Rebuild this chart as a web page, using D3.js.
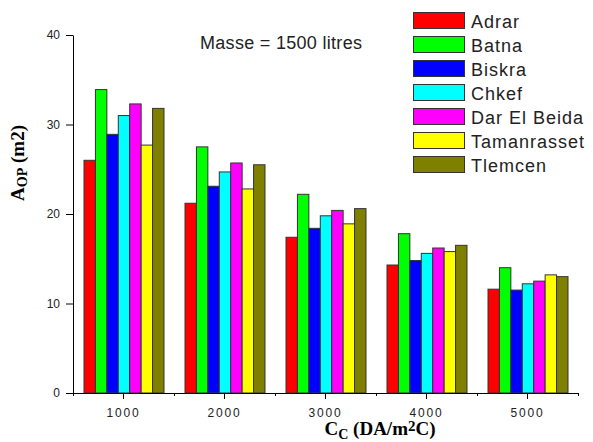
<!DOCTYPE html>
<html>
<head>
<meta charset="utf-8">
<script src="https://cdn.jsdelivr.net/npm/d3@7"></script>
<style>
  html, body { margin: 0; padding: 0; background: #fff; }
  svg { display: block; }
</style>
</head>
<body>
<svg id="chart" width="593" height="442"></svg>
<script>
// Cost of collector (DA/m²C) on the x axis, one group per cost level
const costs = ["1000", "2000", "3000", "4000", "5000"];
const cities = ["Adrar", "Batna", "Biskra", "Chkef", "Dar El Beida", "Tamanrasset", "Tlemcen"];
const cityColors = ["#ff0000", "#00ff00", "#0000ff", "#00ffff", "#ff00ff", "#ffff00", "#808000"];

// Optimal collector area (m²) for each city, one value per cost level
const adrar       = [26.0, 21.2, 17.4, 14.3, 11.6];
const batna       = [33.9, 27.5, 22.2, 17.8, 14.0];
const biskra      = [28.9, 23.1, 18.4, 14.8, 11.5];
const chkef       = [31.0, 24.7, 19.8, 15.6, 12.2];
const darElBeida  = [32.3, 25.7, 20.4, 16.2, 12.5];
const tamanrasset = [27.7, 22.8, 18.9, 15.8, 13.2];
const tlemcen     = [31.8, 25.5, 20.6, 16.5, 13.0];

const yTicks = [0, 10, 20, 30, 40];
const xMinorTicks = [500, 1500, 2500, 3500, 4500, 5500];

const series = [adrar, batna, biskra, chkef, darElBeida, tamanrasset, tlemcen];

const svg = d3.select("#chart");
const plotLeft = 73, plotRight = 578, plotTop = 35, plotBottom = 393;

const x0 = d3.scaleBand().domain(costs).range([plotLeft, plotRight])
  .paddingInner(0.208).paddingOuter(0.104);
const x1 = d3.scaleBand().domain(cities).range([0, x0.bandwidth()]);
const y = d3.scaleLinear().domain([0, 40]).range([plotBottom, plotTop]);
// continuous cost scale for the half-step ticks
const xc = d3.scaleLinear().domain([500, 5500]).range([plotLeft, plotRight]);

// bars
const groups = svg.append("g").selectAll("g")
  .data(costs)
  .join("g")
  .attr("transform", d => `translate(${x0(d)},0)`);

groups.selectAll("rect")
  .data((c, i) => cities.map((city, k) => ({ city, k, v: series[k][i] })))
  .join("rect")
  .attr("x", d => x1(d.city) + 0.5)
  .attr("y", d => y(d.v))
  .attr("width", x1.bandwidth())
  .attr("height", d => y(0) - y(d.v))
  .attr("fill", d => cityColors[d.k])
  .attr("stroke", "#333")
  .attr("stroke-width", 1);

// y axis
const yAxis = svg.append("g")
  .attr("transform", `translate(${plotLeft},0)`)
  .call(d3.axisLeft(y).tickValues(yTicks).tickSize(7).tickPadding(6).tickSizeOuter(0));
yAxis.select(".domain").attr("stroke", "#000");
yAxis.selectAll("text")
  .attr("font-family", "Liberation Sans, Arial, sans-serif")
  .attr("font-size", 12)
  .attr("fill", "#222");

// x axis: major ticks at the cost levels
const xAxis = svg.append("g")
  .attr("transform", `translate(0,${plotBottom})`)
  .call(d3.axisBottom(x0).tickSize(6).tickPadding(9).tickSizeOuter(0));
xAxis.select(".domain").attr("stroke", "#000").attr("d", `M${plotLeft},0.5H${plotRight}`);
xAxis.selectAll("text")
  .attr("font-family", "Liberation Sans, Arial, sans-serif")
  .attr("font-size", 12)
  .attr("letter-spacing", "1.8px")
  .attr("fill", "#222");

// minor ticks between the groups
svg.append("g")
  .attr("transform", `translate(0,${plotBottom})`)
  .selectAll("line")
  .data(xMinorTicks)
  .join("line")
  .attr("x1", d => Math.round(xc(d)) + 0.5)
  .attr("x2", d => Math.round(xc(d)) + 0.5)
  .attr("y1", 0)
  .attr("y2", 3)
  .attr("stroke", "#000");

// axis titles
const yTitle = svg.append("text")
  .attr("transform", "translate(24,163) rotate(-90)")
  .attr("text-anchor", "middle")
  .attr("font-family", "Liberation Serif, Times New Roman, serif")
  .attr("font-weight", "bold")
  .attr("font-size", 19)
  .attr("fill", "#000");
yTitle.append("tspan").text("A");
yTitle.append("tspan").attr("font-size", 14).attr("dy", 3).text("OP");
yTitle.append("tspan").attr("dy", -3).text(" (m2)");

const xTitle = svg.append("text")
  .attr("x", 380)
  .attr("y", 435)
  .attr("text-anchor", "middle")
  .attr("font-family", "Liberation Serif, Times New Roman, serif")
  .attr("font-weight", "bold")
  .attr("font-size", 19)
  .attr("fill", "#000");
xTitle.append("tspan").text("C");
xTitle.append("tspan").attr("font-size", 14).attr("dy", 4).text("C");
xTitle.append("tspan").attr("dy", -4).text(" (DA/m");
xTitle.append("tspan").attr("font-size", 15).attr("dy", -4).text("2");
xTitle.append("tspan").attr("dy", 4).text("C)");

// annotation
svg.append("text")
  .attr("x", 200)
  .attr("y", 49)
  .attr("font-family", "Liberation Sans, Arial, sans-serif")
  .attr("font-size", 18)
  .attr("letter-spacing", "0.3px")
  .attr("fill", "#222")
  .text("Masse = 1500 litres");

// legend
const legend = svg.append("g").selectAll("g")
  .data(cities)
  .join("g")
  .attr("transform", (d, i) => `translate(413,${12 + i * 24})`);
legend.append("rect")
  .attr("x", 0.5).attr("y", 0.5)
  .attr("width", 51).attr("height", 16)
  .attr("fill", (d, i) => cityColors[i])
  .attr("stroke", "#333");
legend.append("text")
  .attr("x", 58)
  .attr("y", 15.5)
  .attr("font-family", "Liberation Sans, Arial, sans-serif")
  .attr("font-size", 18)
  .attr("letter-spacing", "1px")
  .attr("fill", "#222")
  .text(d => d);
</script>
</body>
</html>
